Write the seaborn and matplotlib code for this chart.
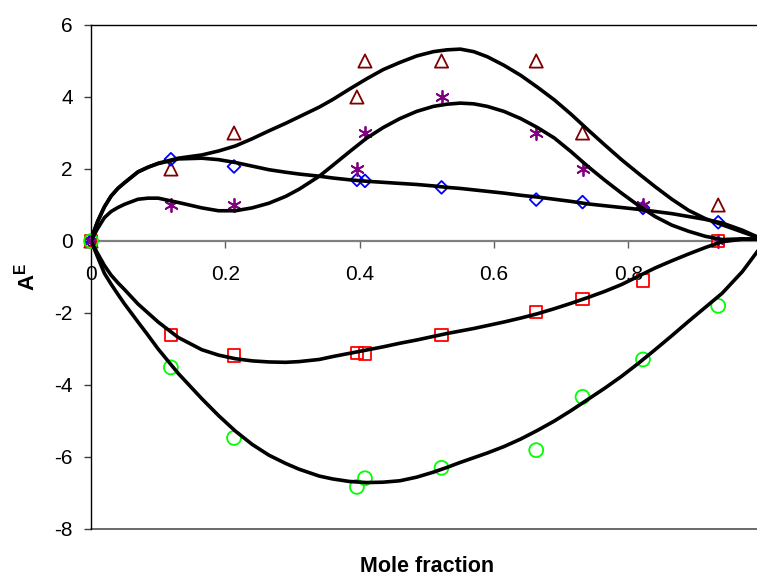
import matplotlib
matplotlib.use("Agg")
import matplotlib.pyplot as plt
import seaborn as sns
import numpy as np

# ---- data ----
mark_x = [0, 0.119, 0.213, 0.396, 0.408, 0.522, 0.663, 0.732, 0.822, 0.934]
tri_x = [0, 0.119, 0.213, 0.396, 0.408, 0.522, 0.663, 0.732, 0.934]
tri_y = [0, 2.0, 3.0, 4.0, 5.0, 5.0, 5.0, 3.0, 1.0]
dia_y = [0, 2.27, 2.07, 1.70, 1.67, 1.49, 1.15, 1.08, 0.92, 0.52]
star_y = [0, 1.0, 1.0, 2.0, 3.0, 4.0, 3.0, 2.0, 1.0, 0.0]
sq_y = [0, -2.61, -3.18, -3.11, -3.13, -2.61, -1.97, -1.61, -1.10, 0.0]
circ_y = [0, -3.51, -5.47, -6.83, -6.59, -6.30, -5.81, -4.33, -3.29, -1.80]

curve_x = [0, 0.005, 0.01, 0.02, 0.03, 0.04, 0.05, 0.07, 0.085, 0.10, 0.13,
           0.165, 0.19, 0.215, 0.24, 0.265, 0.29, 0.31, 0.34, 0.36, 0.385,
           0.41, 0.435, 0.46, 0.485, 0.51, 0.53, 0.55, 0.57, 0.59, 0.615,
           0.64, 0.665, 0.69, 0.715, 0.74, 0.765, 0.79, 0.815, 0.84, 0.865,
           0.89, 0.915, 0.94, 0.97, 1.0]
fit_tri = [0, 0.30, 0.55, 0.95, 1.25, 1.46, 1.62, 1.92, 2.05, 2.16, 2.30,
           2.39, 2.50, 2.64, 2.84, 3.06, 3.27, 3.45, 3.72, 3.93, 4.22,
           4.50, 4.76, 4.96, 5.14, 5.26, 5.31, 5.33, 5.26, 5.12, 4.88,
           4.60, 4.27, 3.92, 3.52, 3.09, 2.67, 2.26, 1.88, 1.51, 1.16,
           0.85, 0.62, 0.45, 0.25, 0.05]
fit_dia = [0, 0.30, 0.55, 0.95, 1.25, 1.46, 1.62, 1.92, 2.05, 2.15, 2.28,
           2.30, 2.26, 2.18, 2.08, 1.98, 1.91, 1.86, 1.80, 1.75, 1.70,
           1.66, 1.63, 1.60, 1.57, 1.53, 1.49, 1.46, 1.42, 1.38, 1.33,
           1.27, 1.22, 1.16, 1.10, 1.03, 0.98, 0.93, 0.88, 0.82, 0.76,
           0.68, 0.60, 0.50, 0.30, 0.05]
fit_star = [0, 0.18, 0.35, 0.65, 0.82, 0.93, 1.02, 1.16, 1.19, 1.19, 1.07,
            0.92, 0.84, 0.84, 0.92, 1.05, 1.24, 1.44, 1.80, 2.10, 2.48,
            2.85, 3.15, 3.40, 3.60, 3.74, 3.80, 3.83, 3.81, 3.74, 3.60,
            3.40, 3.15, 2.86, 2.48, 2.07, 1.69, 1.33, 0.99, 0.68, 0.44,
            0.27, 0.13, 0.04, 0.06, 0.05]
fit_sq = [0, -0.18, -0.35, -0.68, -0.95, -1.16, -1.35, -1.75, -2.00, -2.25,
          -2.68, -3.02, -3.17, -3.27, -3.33, -3.36, -3.37, -3.35, -3.29,
          -3.21, -3.12, -3.03, -2.94, -2.84, -2.75, -2.65, -2.57, -2.50,
          -2.43, -2.35, -2.25, -2.14, -2.02, -1.88, -1.73, -1.57, -1.40,
          -1.21, -0.98, -0.75, -0.55, -0.36, -0.18, -0.02, 0.05, 0.05]
fit_circ = [0, -0.22, -0.45, -0.9, -1.2, -1.48, -1.75, -2.25, -2.62, -3.0,
            -3.68, -4.38, -4.85, -5.28, -5.65, -5.95, -6.18, -6.34, -6.53,
            -6.61, -6.68, -6.71, -6.70, -6.66, -6.56, -6.42, -6.29, -6.15,
            -6.02, -5.89, -5.71, -5.50, -5.26, -5.00, -4.71, -4.40, -4.09,
            -3.76, -3.40, -3.02, -2.63, -2.23, -1.84, -1.45, -0.85, -0.1]

x_ticks = [0, 0.2, 0.4, 0.6, 0.8]
x_ticklabels = ["0", "0.2", "0.4", "0.6", "0.8"]
y_ticks = [-8, -6, -4, -2, 0, 2, 4, 6]

# ---- styling ----
sns.set_theme(style="white")
plt.rcParams["font.family"] = ["Liberation Sans", "DejaVu Sans"]
plt.rcParams["text.color"] = "black"
plt.rcParams["mathtext.fontset"] = "custom"
plt.rcParams["mathtext.rm"] = "Liberation Sans"
plt.rcParams["mathtext.bf"] = "Liberation Sans:bold"

W, H = 757, 576
fig = plt.figure(figsize=(W / 100, H / 100), dpi=100)
ax = fig.add_axes([91 / W, 1 - 529 / H, 666 / W, 504 / H])

# markers (under the curves)
lw_m = 1.3
sns.scatterplot(x=tri_x, y=tri_y, marker="^", s=9.5 ** 2, color="#800000",
                facecolor="none", edgecolor="#800000", linewidth=lw_m,
                ax=ax, clip_on=False, zorder=3)
sns.scatterplot(x=mark_x, y=dia_y, marker="D", s=6.5 ** 2, color="#0000FF",
                facecolor="none", edgecolor="#0000FF", linewidth=lw_m,
                ax=ax, clip_on=False, zorder=3)
sns.scatterplot(x=mark_x, y=star_y, marker=(6, 2, 0), s=9.5 ** 2, color="#800080",
                edgecolor=None, linewidth=lw_m, ax=ax, clip_on=False, zorder=3)
sns.scatterplot(x=mark_x, y=sq_y, marker="s", s=9 ** 2, color="#FF0000",
                facecolor="none", edgecolor="#FF0000", linewidth=lw_m,
                ax=ax, clip_on=False, zorder=3)
sns.scatterplot(x=mark_x, y=circ_y, marker="o", s=10 ** 2, color="#00FF00",
                facecolor="none", edgecolor="#00FF00", linewidth=lw_m,
                ax=ax, clip_on=False, zorder=3)

# fitted curves
for fy in [fit_tri, fit_dia, fit_star, fit_sq, fit_circ]:
    sns.lineplot(x=curve_x, y=fy, color="black", linewidth=2.6, sort=False,
                 estimator=None, ax=ax, zorder=4, solid_joinstyle="round",
                 solid_capstyle="round")

ax.set_xlim(0, 666 / 671.5)
ax.set_ylim(-8, 6)
ax.set_xticks(x_ticks)
ax.set_xticklabels(x_ticklabels)
ax.set_yticks(y_ticks)
ax.set_yticklabels([str(v) for v in y_ticks])
ax.set_axisbelow(True)

ax.spines["right"].set_visible(False)
ax.spines["top"].set_color("black")
ax.spines["top"].set_linewidth(1.0)
ax.spines["left"].set_color("black")
ax.spines["left"].set_linewidth(1.0)
ax.spines["bottom"].set_position(("data", 0))
ax.spines["bottom"].set_color("#808080")
ax.spines["bottom"].set_linewidth(1.6)
ax.spines["bottom"].set_zorder(1)
ax.axhline(-8, color="#505050", linewidth=1.2, clip_on=False, zorder=1)

ax.tick_params(axis="x", direction="out", length=5, width=1, color="#606060",
               pad=12, labelsize=15, labelcolor="black", bottom=True)
ax.tick_params(axis="y", direction="out", length=5, width=1, color="#404040",
               pad=8, labelsize=15, labelcolor="black", left=True)
ax.set_xlabel("")
ax.set_ylabel("")

fig.text(427 / W, 1 - 567 / H, "Mole fraction", ha="center", va="center",
         fontsize=15.5, fontweight="bold", color="black")
fig.text(27 / W, 1 - 277 / H, r"$\mathbf{A}^{\mathbf{E}}$", ha="center",
         va="center", rotation=90, fontsize=16, color="black")

fig.savefig("out.png", dpi=100)
